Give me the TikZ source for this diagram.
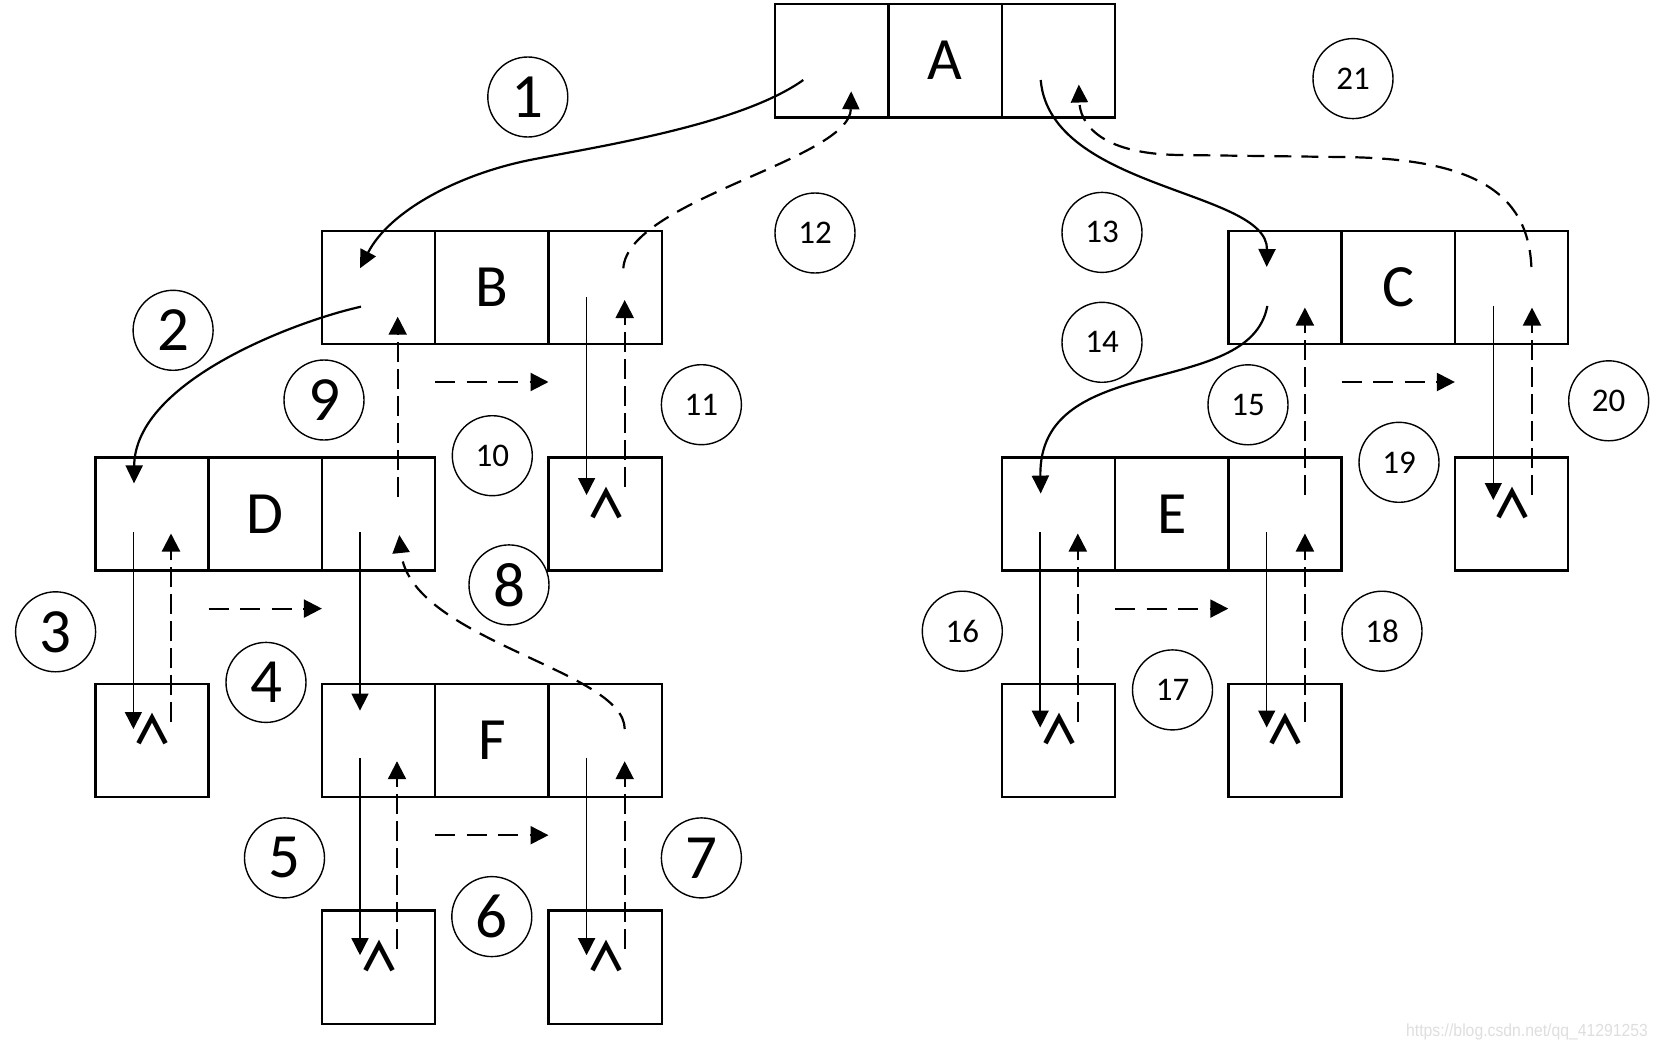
\documentclass[tikz,border=0pt]{standalone}
\usepackage{fontspec}
\setmainfont{Carlito}
\newfontfamily\symfont{Noto Sans CJK SC}
\newfontfamily\wmfont{Liberation Sans}
\usetikzlibrary{arrows.meta,calc}
\begin{document}
\begin{tikzpicture}[x=1pt,y=-1pt,
 cell/.style={draw, line width=2.4pt, minimum size=113.3pt, inner sep=0pt, outer sep=0pt, font=\fontsize{60}{60}\selectfont},
 num/.style={circle, draw, line width=1.4pt, minimum size=80pt, inner sep=0pt},
 big/.style={num, font=\fontsize{63}{63}\selectfont},
 small/.style={num, font=\fontsize{33}{33}\selectfont},
 nil/.style={font=\symfont\bfseries\fontsize{40}{40}\selectfont, inner sep=0pt},
 ptr/.style={line width=1.5pt, -{Triangle[length=17pt,width=17pt]}},
 back/.style={line width=2.2pt, dash pattern=on 20pt off 7pt, -{Triangle[length=18pt,width=18pt]}},
 across/.style={line width=2.2pt, dash pattern=on 20pt off 11.5pt, -{Triangle[length=18pt,width=18pt]}},
 link/.style={line width=2.2pt, -{Triangle[length=18pt,width=17pt]}},
 linkback/.style={line width=2.2pt, dash pattern=on 17pt off 10pt, -{Triangle[length=18pt,width=17pt]}},
 wmark/.style={text=black!13, font=\wmfont\fontsize{17.5}{17.5}\selectfont, inner sep=0pt, anchor=base west}
]
\useasboundingbox (0,0) rectangle (1658,1049);

% ---- boxes ----
\node[cell] (Al) at (831.75,60.75) {};
\node[cell] (Am) at (945.05,60.75) {A};
\node[cell] (Ar) at (1058.35,60.75) {};

\node[cell] (Bl) at (378.55,287.35) {};
\node[cell] (Bm) at (491.85,287.35) {B};
\node[cell] (Br) at (605.15,287.35) {};

\node[cell] (Cl) at (1284.95,287.35) {};
\node[cell] (Cm) at (1398.25,287.35) {C};
\node[cell] (Cr) at (1511.55,287.35) {};

\node[cell] (Dl) at (151.95,513.95) {};
\node[cell] (Dm) at (265.25,513.95) {D};
\node[cell] (Dr) at (378.55,513.95) {};

\node[cell] (Bn) at (605.15,513.95) {};

\node[cell] (El) at (1058.35,513.95) {};
\node[cell] (Em) at (1171.65,513.95) {E};
\node[cell] (Er) at (1284.95,513.95) {};

\node[cell] (Cn) at (1511.55,513.95) {};

\node[cell] (Dn) at (151.95,740.55) {};
\node[cell] (Fl) at (378.55,740.55) {};
\node[cell] (Fm) at (491.85,740.55) {F};
\node[cell] (Fr) at (605.15,740.55) {};

\node[cell] (Eln) at (1058.35,740.55) {};
\node[cell] (Ern) at (1284.95,740.55) {};

\node[cell] (Fln) at (378.55,967.15) {};
\node[cell] (Frn) at (605.15,967.15) {};

% ---- null marks ----
\node[nil] (Dnx) at ($(Dn)+(1,-11)$) {∧};
\node[nil] (Bnx) at ($(Bn)+(1,-11)$) {∧};
\node[nil] (Cnx) at ($(Cn)+(1,-11)$) {∧};
\node[nil] (Elnx) at ($(Eln)+(1,-11)$) {∧};
\node[nil] (Ernx) at ($(Ern)+(1,-11)$) {∧};
\node[nil] (Flnx) at ($(Fln)+(1,-11)$) {∧};
\node[nil] (Frnx) at ($(Frn)+(1,-11)$) {∧};

% ---- step numbers ----
\node[big] (n1) at (527.8,97) {1};
\node[big] (n2) at (173.1,330.3) {2};
\node[big] (n3) at (55.6,631.8) {3};
\node[big] (n4) at (266,682.4) {4};
\node[big] (n5) at (284.5,857.9) {5};
\node[big] (n6) at (491.8,916.6) {6};
\node[big] (n7) at (701.4,857.9) {7};
\node[big] (n8) at (509,584.9) {8};
\node[big] (n9) at (324,400) {9};
\node[small] (n10) at (492.3,455.7) {10};
\node[small] (n11) at (701.4,404.7) {11};
\node[small] (n12) at (815,233) {12};
\node[small] (n13) at (1102,232.4) {13};
\node[small] (n14) at (1102,342.3) {14};
\node[small] (n15) at (1248,404.8) {15};
\node[small] (n16) at (962.3,631.2) {16};
\node[small] (n17) at (1172.5,689.9) {17};
\node[small] (n18) at (1382,631.2) {18};
\node[small] (n19) at (1399,462.3) {19};
\node[small] (n20) at (1608.7,400.8) {20};
\node[small] (n21) at (1353,78.6) {21};

% ---- pointer coordinates ----
\coordinate (DlS) at (133.4,532);   \coordinate (DnT) at (133.4,729);
\coordinate (DrS) at (360,532);     \coordinate (FlT) at (360,710.6);
\coordinate (BrS) at (586.6,297.3); \coordinate (BnT) at (586.6,495);
\coordinate (CrS) at (1493.3,306);  \coordinate (CnT) at (1493.3,500);
\coordinate (FlS) at (360,757.9);   \coordinate (FlnT) at (360,955.2);
\coordinate (FrS) at (586.6,757.9); \coordinate (FrnT) at (586.6,955.2);
\coordinate (ElS) at (1040.2,532);  \coordinate (ElnT) at (1040.2,727.5);
\coordinate (ErS) at (1266.7,532);  \coordinate (ErnT) at (1266.7,727.5);

\coordinate (DnB) at (171,722.4);    \coordinate (DlB) at (171,533.5);
\coordinate (DrB) at (397.7,496.7);  \coordinate (BlB) at (397.7,316.7);
\coordinate (BnB) at (624.7,486.7);  \coordinate (BrB) at (624.7,300);
\coordinate (CnB) at (1532,495);     \coordinate (CrB) at (1532,307.6);
\coordinate (FlnB) at (397,948.5);   \coordinate (FlB) at (397,761.2);
\coordinate (FrnB) at (624.7,948.5); \coordinate (FrB) at (624.7,761.2);
\coordinate (ElnB) at (1077.8,722);  \coordinate (ElB) at (1077.8,533.5);
\coordinate (ErnB) at (1304.9,722);  \coordinate (ErB) at (1304.9,533.5);
\coordinate (ErU) at (1304.9,495);   \coordinate (ClB) at (1304.9,307.6);

\coordinate (AlS) at (803.3,80);    \coordinate (BlT) at (360,268.3);
\coordinate (BlS) at (361,306.7);   \coordinate (DlT) at (134,483.4);
\coordinate (FrU) at (624.7,729);   \coordinate (DrB2) at (399.3,535);
\coordinate (BrU) at (623.3,268.3); \coordinate (AlB) at (851.2,91.3);
\coordinate (ArS) at (1040.7,80);   \coordinate (ClT) at (1266.7,267);
\coordinate (CrU) at (1531.4,267);  \coordinate (ArB) at (1078.8,84.5);
\coordinate (ClS) at (1267.3,306);  \coordinate (ElT) at (1040.7,493.6);

% ---- solid straight pointers ----
\draw[ptr] (DlS) -- (DnT);
\draw[ptr] (DrS) -- (FlT);
\draw[ptr] (BrS) -- (BnT);
\draw[ptr] (CrS) -- (CnT);
\draw[ptr] (FlS) -- (FlnT);
\draw[ptr] (FrS) -- (FrnT);
\draw[ptr] (ElS) -- (ElnT);
\draw[ptr] (ErS) -- (ErnT);

% ---- dashed returns ----
\draw[back] (DnB) -- (DlB);
\draw[back] (DrB) -- (BlB);
\draw[back] (BnB) -- (BrB);
\draw[back] (CnB) -- (CrB);
\draw[back] (FlnB) -- (FlB);
\draw[back] (FrnB) -- (FrB);
\draw[back] (ElnB) -- (ElB);
\draw[back] (ErnB) -- (ErB);
\draw[back] (ErU) -- (ClB);

% ---- horizontal dashed ----
\draw[across] ($(Bm.south west)+(0,38)$) -- ($(Bm.south east)+(0,38)$);
\draw[across] ($(Cm.south west)+(0,38)$) -- ($(Cm.south east)+(0,38)$);
\draw[across] ($(Dm.south west)+(0,38)$) -- ($(Dm.south east)+(0,38)$);
\draw[across] ($(Fm.south west)+(0,38)$) -- ($(Fm.south east)+(0,38)$);
\draw[across] ($(Em.south west)+(0,38)$) -- ($(Em.south east)+(0,38)$);

% ---- curved links ----
\draw[link] (AlS) .. controls (740,125) and (600,146) .. (530,160) .. controls (460,174) and (390,210) .. (BlT);
\draw[link] (BlS) .. controls (300,320) and (135,380) .. (DlT);
\draw[linkback] (FrU) .. controls (624.7,670) and (410,640) .. (DrB2);
\draw[linkback] (BrU) .. controls (628,200) and (850,160) .. (AlB);
\draw[link] (ArS) .. controls (1050,190) and (1268,190) .. (ClT);
\draw[linkback] (CrU) .. controls (1528,190) and (1470,158) .. (1340,157) -- (1180,155) .. controls (1095,154) and (1080,120) .. (ArB);
\draw[link] (ClS) .. controls (1250,400) and (1038,350) .. (ElT);

% ---- watermark ----
\node[wmark] (wm) at (1406,1036.7) {\scalebox{0.9}[1]{https://blog.csdn.net/qq\_41291253}};
\end{tikzpicture}
\end{document}
